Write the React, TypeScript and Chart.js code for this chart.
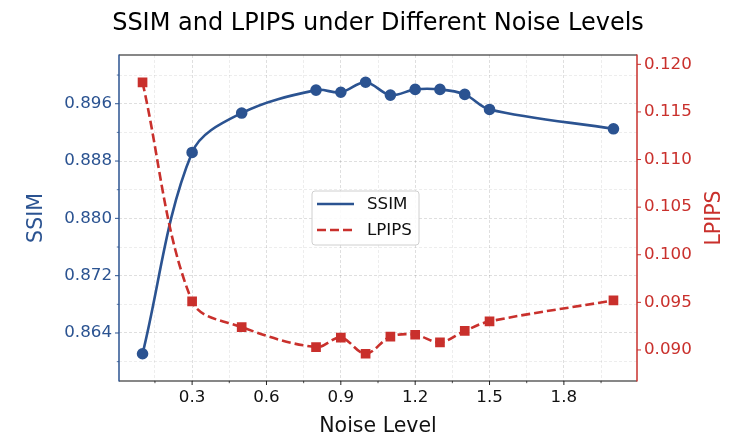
import { useEffect, useRef } from "react";
import { Chart, registerables } from "chart.js";

Chart.register(...registerables);

const noiseLevels = [0.1, 0.3, 0.5, 0.8, 0.9, 1.0, 1.1, 1.2, 1.3, 1.4, 1.5, 2.0];
const ssimValues = [0.8611, 0.8892, 0.8947, 0.8979, 0.8976, 0.899, 0.8972, 0.898, 0.898, 0.8973, 0.8952, 0.8925];
const lpipsValues = [0.1181, 0.0951, 0.0924, 0.0903, 0.0913, 0.0896, 0.0914, 0.0916, 0.0908, 0.092, 0.093, 0.0952];

const xMajorTicks = [0.3, 0.6, 0.9, 1.2, 1.5, 1.8];
const xMinorTicks = [0.15, 0.45, 0.75, 1.05, 1.35, 1.65, 1.95];
const ssimMajorTicks = [0.864, 0.872, 0.88, 0.888, 0.896];
const ssimMinorTicks = [0.86, 0.868, 0.876, 0.884, 0.892, 0.9];
const lpipsTicks = [0.09, 0.095, 0.1, 0.105, 0.11, 0.115, 0.12];

const BLUE = "#2b5391";
const RED = "#c9302c";
const FONT = "'DejaVu Sans', sans-serif";

const has = (arr: number[], v: number) => arr.some((a) => Math.abs(a - v) < 1e-9);

const setTicks = (values: number[]) => (scale: any) => {
  scale.ticks = [...values].sort((a, b) => a - b).map((v) => ({ value: v }));
};

const decorPlugin = {
  id: "decor",
  afterDraw(chart: any) {
    const { ctx, chartArea: a, scales } = chart;
    const { x, y, y1 } = scales;
    ctx.save();

    const tick = (px: number, py: number, dx: number, dy: number, color: string, w: number) => {
      ctx.beginPath();
      ctx.strokeStyle = color;
      ctx.lineWidth = w;
      ctx.moveTo(px, py);
      ctx.lineTo(px + dx, py + dy);
      ctx.stroke();
    };
    xMajorTicks.forEach((v) => tick(x.getPixelForValue(v), a.bottom, 0, 4, "#222", 1));
    xMinorTicks.forEach((v) => tick(x.getPixelForValue(v), a.bottom, 0, 2.2, "#222", 0.8));
    ssimMajorTicks.forEach((v) => tick(a.left, y.getPixelForValue(v), -4, 0, BLUE, 1));
    ssimMinorTicks.forEach((v) => tick(a.left, y.getPixelForValue(v), -2.2, 0, BLUE, 0.8));
    lpipsTicks.forEach((v) => tick(a.right, y1.getPixelForValue(v), 4, 0, RED, 1));

    ctx.lineCap = "butt";
    tick(a.left, a.top, a.right - a.left, 0, "#111", 1.2);
    tick(a.left, a.bottom, a.right - a.left, 0, "#111", 1.2);
    tick(a.left, a.top - 0.6, 0, a.bottom - a.top + 1.2, BLUE, 1.5);
    tick(a.right, a.top - 0.6, 0, a.bottom - a.top + 1.2, RED, 1.5);

    const cx = (a.left + a.right) / 2;
    const cy = (a.top + a.bottom) / 2;
    const lx = cx - 66;
    const ly = cy - 27;
    const lw = 107;
    const lh = 54;
    const r = 3;
    ctx.beginPath();
    ctx.moveTo(lx + r, ly);
    ctx.arcTo(lx + lw, ly, lx + lw, ly + lh, r);
    ctx.arcTo(lx + lw, ly + lh, lx, ly + lh, r);
    ctx.arcTo(lx, ly + lh, lx, ly, r);
    ctx.arcTo(lx, ly, lx + lw, ly, r);
    ctx.closePath();
    ctx.fillStyle = "rgba(255,255,255,0.85)";
    ctx.fill();
    ctx.strokeStyle = "#d0d0d0";
    ctx.lineWidth = 1;
    ctx.stroke();

    chart.data.datasets.forEach((ds: any, i: number) => {
      const iy = ly + 13 + i * 26;
      ctx.beginPath();
      ctx.strokeStyle = ds.borderColor;
      ctx.lineWidth = 2.6;
      ctx.setLineDash(ds.borderDash || []);
      ctx.moveTo(lx + 5, iy);
      ctx.lineTo(lx + 42, iy);
      ctx.stroke();
      ctx.setLineDash([]);
      ctx.fillStyle = "#111";
      ctx.font = `16.7px ${FONT}`;
      ctx.textAlign = "left";
      ctx.textBaseline = "middle";
      ctx.fillText(ds.label, lx + 55, iy + 1);
    });

    ctx.fillStyle = "#000";
    ctx.font = `24px ${FONT}`;
    ctx.textAlign = "center";
    ctx.textBaseline = "middle";
    ctx.fillText("SSIM and LPIPS under Different Noise Levels", cx, 24);

    ctx.font = `20.5px ${FONT}`;
    ctx.fillStyle = "#111";
    ctx.fillText("Noise Level", cx, 427);

    ctx.save();
    ctx.translate(37, cy);
    ctx.rotate(-Math.PI / 2);
    ctx.fillStyle = BLUE;
    ctx.fillText("SSIM", 0, 0);
    ctx.restore();

    ctx.save();
    ctx.translate(715, cy);
    ctx.rotate(-Math.PI / 2);
    ctx.fillStyle = RED;
    ctx.fillText("LPIPS", 0, 0);
    ctx.restore();

    ctx.restore();
  },
};

const gridMajor = "rgba(0,0,0,0.16)";
const gridMinor = "rgba(0,0,0,0.09)";

export default function App() {
  const ref = useRef<HTMLCanvasElement | null>(null);

  useEffect(() => {
    document.body.style.margin = "0";
    document.body.style.overflow = "hidden";
    if (!ref.current) return;
    const chart = new Chart(ref.current, {
      type: "line",
      data: {
        datasets: [
          {
            label: "SSIM",
            data: noiseLevels.map((v, i) => ({ x: v, y: ssimValues[i] })),
            yAxisID: "y",
            borderColor: BLUE,
            backgroundColor: BLUE,
            borderWidth: 2.6,
            pointStyle: "circle",
            pointRadius: 4.5,
            pointHoverRadius: 4.5,
            tension: 0.35,
            order: 1,
          },
          {
            label: "LPIPS",
            data: noiseLevels.map((v, i) => ({ x: v, y: lpipsValues[i] })),
            yAxisID: "y1",
            borderColor: RED,
            backgroundColor: RED,
            borderWidth: 2.6,
            borderDash: [9, 4],
            pointStyle: "rect",
            pointRadius: 5,
            pointHoverRadius: 5,
            tension: 0.35,
            order: 0,
          },
        ],
      },
      options: {
        animation: false,
        responsive: true,
        maintainAspectRatio: false,
        layout: { padding: { top: 55, left: 0, right: 0, bottom: 0 } },
        plugins: {
          legend: { display: false },
          title: { display: false },
          tooltip: { enabled: false },
        },
        scales: {
          x: {
            type: "linear",
            min: 0.005,
            max: 2.095,
            afterBuildTicks: setTicks([...xMajorTicks, ...xMinorTicks]),
            afterFit: (s: any) => {
              s.height = 66;
            },
            ticks: {
              autoSkip: false,
              maxRotation: 0,
              padding: 3,
              color: "#111",
              font: { family: FONT, size: 16.7 },
              callback: (v: any) => (has(xMajorTicks, Number(v)) ? Number(v).toFixed(1) : ""),
            },
            grid: {
              color: (c: any) => (c.tick && has(xMinorTicks, c.tick.value) ? gridMinor : gridMajor),
              lineWidth: 0.8,
              tickLength: 4,
              tickColor: "rgba(0,0,0,0)",
            },
            border: { display: false, dash: [3, 2] },
          },
          y: {
            type: "linear",
            position: "left",
            min: 0.8573,
            max: 0.9028,
            afterBuildTicks: setTicks([...ssimMajorTicks, ...ssimMinorTicks]),
            afterFit: (s: any) => {
              s.width = 119;
            },
            ticks: {
              autoSkip: false,
              padding: 3,
              color: BLUE,
              font: { family: FONT, size: 16.7 },
              callback: (v: any) => (has(ssimMajorTicks, Number(v)) ? Number(v).toFixed(3) : ""),
            },
            grid: {
              color: (c: any) => (c.tick && has(ssimMinorTicks, c.tick.value) ? gridMinor : gridMajor),
              lineWidth: 0.8,
              tickLength: 4,
              tickColor: "rgba(0,0,0,0)",
            },
            border: { display: false, dash: [3, 2] },
          },
          y1: {
            type: "linear",
            position: "right",
            min: 0.08674,
            max: 0.12098,
            afterBuildTicks: setTicks(lpipsTicks),
            afterFit: (s: any) => {
              s.width = 101;
            },
            ticks: {
              autoSkip: false,
              padding: 3,
              color: RED,
              font: { family: FONT, size: 16.7 },
              callback: (v: any) => Number(v).toFixed(3),
            },
            grid: {
              drawOnChartArea: false,
              tickLength: 4,
              tickColor: "rgba(0,0,0,0)",
            },
            border: { display: false },
          },
        },
      },
      plugins: [decorPlugin],
    });
    return () => chart.destroy();
  }, []);

  return (
    <div style={{ width: 738, height: 447, position: "relative" }}>
      <canvas ref={ref} />
    </div>
  );
}
